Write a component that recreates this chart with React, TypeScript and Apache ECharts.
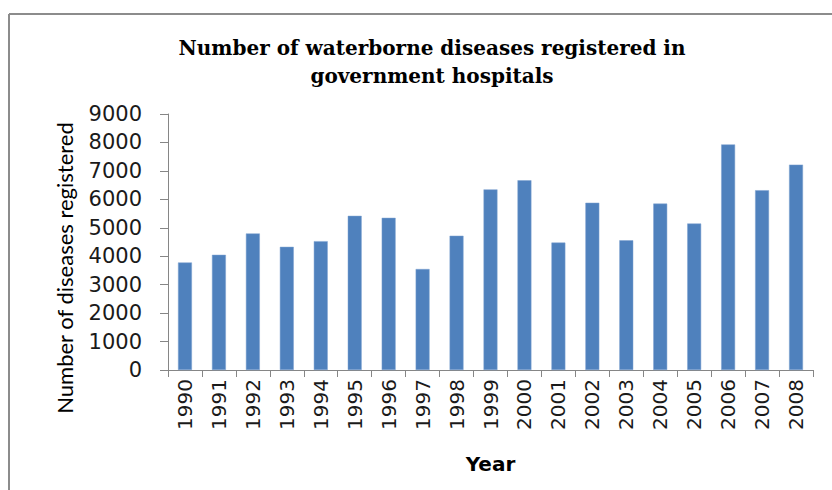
import React, { useEffect, useRef } from "react";
import * as echarts from "echarts";

const years = ["1990","1991","1992","1993","1994","1995","1996","1997","1998","1999","2000","2001","2002","2003","2004","2005","2006","2007","2008"];
const diseases = [3780,4050,4800,4330,4530,5420,5350,3550,4720,6350,6670,4480,5880,4560,5850,5150,7930,6320,7220];
const titleText = "Number of waterborne diseases registered in\ngovernment hospitals";
const yAxisTitle = "Number of diseases registered";
const xAxisTitle = "Year";

export default function App() {
  const ref = useRef<HTMLDivElement>(null);
  useEffect(() => {
    if (!ref.current) return;
    const chart = echarts.init(ref.current, null, { renderer: "svg" });
    chart.setOption({
      animation: false,
      backgroundColor: "#ffffff",
      title: {
        text: titleText,
        left: 427,
        top: 29,
        textAlign: "center",
        textStyle: {
          fontFamily: "DejaVu Serif",
          fontWeight: "bold",
          fontSize: 20,
          lineHeight: 28,
          color: "#000000",
        },
      },
      graphic: [
        { type: "line", shape: { x1: 9, y1: 14, x2: 9, y2: 490 }, style: { stroke: "#8c8c8c", lineWidth: 2 } },
        { type: "line", shape: { x1: 9, y1: 14, x2: 832, y2: 14 }, style: { stroke: "#8c8c8c", lineWidth: 2 } },
        {
          type: "text",
          x: 64,
          y: 268,
          rotation: Math.PI / 2,
          style: {
            text: yAxisTitle,
            fontFamily: "Lato",
            fontSize: 22,
            fill: "#000000",
            textAlign: "center",
            textVerticalAlign: "middle",
          },
        },
      ],
      grid: { left: 168, right: 19, top: 114, bottom: 120 },
      xAxis: {
        type: "category",
        data: years,
        name: xAxisTitle,
        nameLocation: "middle",
        nameGap: 84,
        nameTextStyle: { fontFamily: "DejaVu Sans", fontWeight: "bold", fontSize: 20, color: "#000" },
        axisLine: { lineStyle: { color: "#868686", width: 1 } },
        axisTick: { show: true, length: 7, lineStyle: { color: "#868686" } },
        axisLabel: { rotate: 90, fontFamily: "DejaVu Sans", fontSize: 20, color: "#1a1a1a", margin: 9 },
      },
      yAxis: {
        type: "value",
        min: 0,
        max: 9000,
        interval: 1000,
        splitLine: { show: false },
        axisLine: { show: true, lineStyle: { color: "#868686", width: 1 } },
        axisTick: { show: true, length: 8, lineStyle: { color: "#868686" } },
        axisLabel: {
          fontFamily: "DejaVu Sans",
          fontSize: 21,
          color: "#1a1a1a",
          margin: 26,
          formatter: (v: number) => String(v),
        },
      },
      series: [
        {
          type: "bar",
          data: diseases,
          barWidth: "41%",
          itemStyle: { color: "#4F81BD", borderColor: "#7fa3d0", borderWidth: 0.5 },
        },
      ],
    });
    return () => chart.dispose();
  }, []);
  return <div ref={ref} style={{ position: "fixed", left: 0, top: 0, width: 832, height: 490 }} />;
}
